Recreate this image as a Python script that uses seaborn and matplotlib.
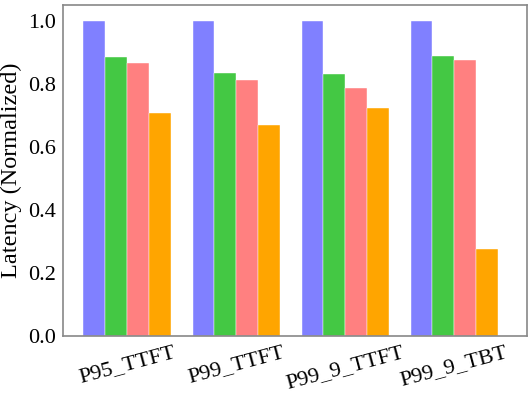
import matplotlib
matplotlib.use("Agg")
import matplotlib.pyplot as plt
import matplotlib.font_manager as fm
import seaborn as sns
import pandas as pd
import os

categories = ["P95_TTFT", "P99_TTFT", "P99_9_TTFT", "P99_9_TBT"]
series_names = ["S1", "S2", "S3", "S4"]
s1 = [1.0, 1.0, 1.0, 1.0]
s2 = [0.885, 0.834, 0.829, 0.888]
s3 = [0.867, 0.812, 0.785, 0.874]
s4 = [0.708, 0.668, 0.724, 0.277]
colors = ["#8080FF", "#44C844", "#FF8080", "#FFA500"]

rows = []
for name, vals in zip(series_names, [s1, s2, s3, s4]):
    for c, v in zip(categories, vals):
        rows.append({"cat": c, "series": name, "value": v})
df = pd.DataFrame(rows)

sns.set_style("white")
font_path = "/usr/share/fonts/truetype/liberation/LiberationSerif-Regular.ttf"
fam = "Liberation Serif"
if os.path.exists(font_path):
    fm.fontManager.addfont(font_path)
    fam = fm.FontProperties(fname=font_path).get_name()
plt.rcParams["font.family"] = [fam, "DejaVu Serif"]
plt.rcParams["text.color"] = "black"
plt.rcParams["axes.labelcolor"] = "black"
plt.rcParams["xtick.labelcolor"] = "black"
plt.rcParams["ytick.labelcolor"] = "black"

fig = plt.figure(figsize=(5.32, 3.99), dpi=100)
ax = fig.add_axes([0.118, 0.158, 0.873, 0.830])
sns.barplot(data=df, x="cat", y="value", hue="series", palette=colors,
            width=0.8, dodge=True, ax=ax, legend=False,
            edgecolor="white", linewidth=0.3, saturation=1)
ax.set_xlim(-0.59, 3.67)
ax.set_ylim(0, 1.05)
ax.set_xlabel("")
ax.set_ylabel("Latency (Normalized)", fontsize=17.5, labelpad=4, color="black")
ax.set_yticks([0.0, 0.2, 0.4, 0.6, 0.8, 1.0])
ax.set_yticklabels(["0.0", "0.2", "0.4", "0.6", "0.8", "1.0"], fontsize=16, color="black")
ax.set_xticks(range(len(categories)))
ax.set_xticklabels(categories, fontsize=16, rotation=15, color="black")
for s in ax.spines.values():
    s.set_color("#888888")
    s.set_linewidth(1.2)
ax.tick_params(axis="both", direction="out", length=3, width=1, color="#555555", pad=2)
fig.savefig("out.png", dpi=100)
